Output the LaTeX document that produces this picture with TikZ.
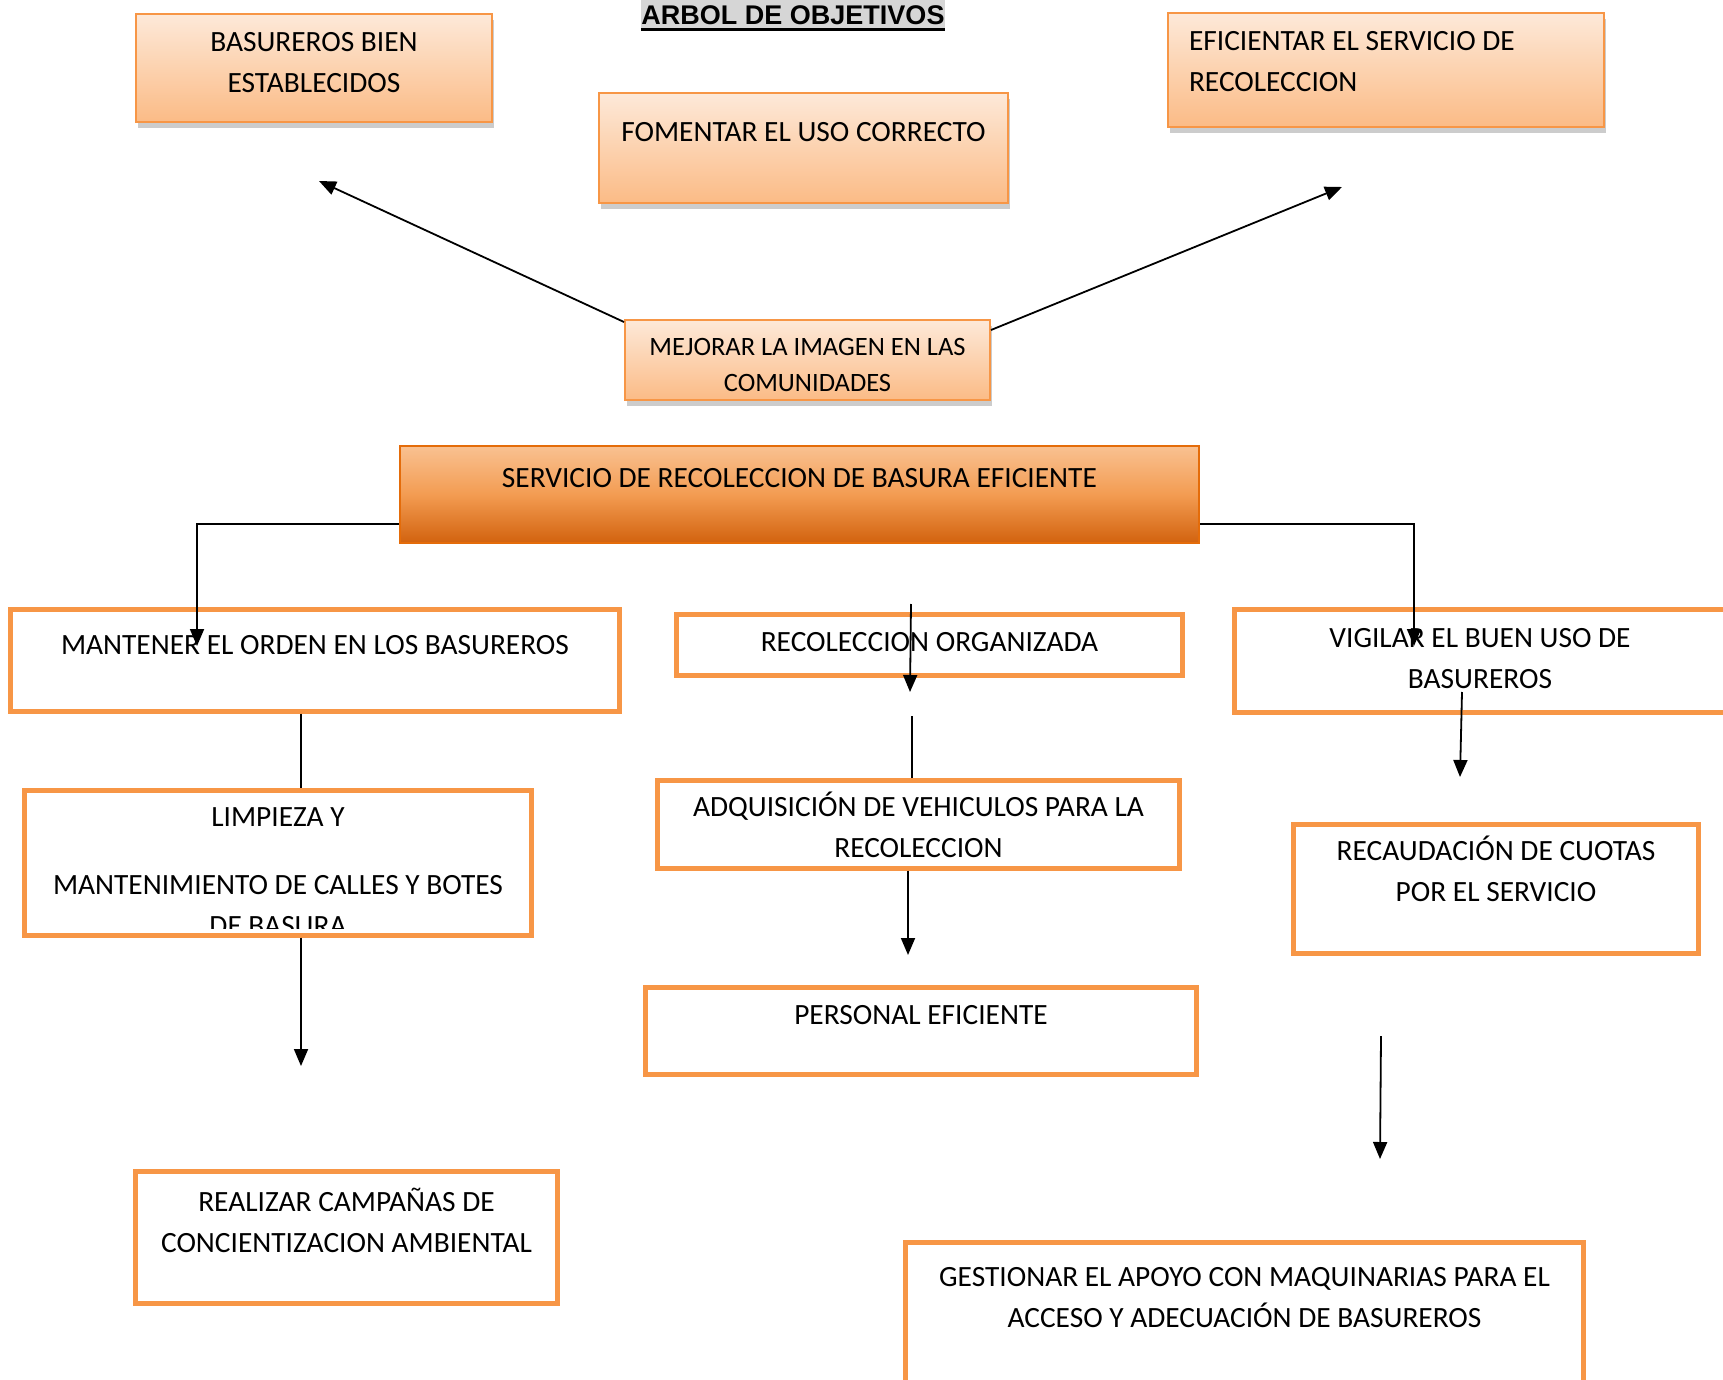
\documentclass[tikz,border=0pt]{standalone}
\usepackage{fontspec}
\setmainfont{Carlito}
\newfontfamily\arialfont{Liberation Sans}
\usepackage[RGB]{xcolor}
\usepackage{tikz}
\usetikzlibrary{arrows.meta,shadows}
\definecolor{borde}{RGB}{247,150,70}
\definecolor{bordeosc}{RGB}{228,108,10}
\definecolor{claro}{RGB}{253,233,217}
\definecolor{durazno}{RGB}{251,187,134}
\definecolor{centroA}{RGB}{249,193,145}
\definecolor{centroB}{RGB}{243,156,82}
\definecolor{centroC}{RGB}{210,98,14}
\definecolor{gristitulo}{RGB}{214,214,214}
\newcommand{\texto}{\fontsize{29.4}{41}\selectfont}
\newcommand{\textochico}{\fontsize{26.5}{36}\selectfont}

\tikzset{
  caja/.style n args={3}{text width=#1pt, text height=#2pt, text depth=#3pt},
  objetivo/.style={draw=borde, line width=2pt, top color=claro, bottom color=durazno,
    drop shadow={shadow xshift=2pt, shadow yshift=-6pt, fill=black, opacity=0.2},
    inner sep=0pt, anchor=north, align=flush center, font=\texto},
  central/.style={draw=bordeosc, line width=2pt, top color=centroA, bottom color=centroC,
    middle color=centroB, inner sep=0pt, anchor=north, align=flush center, font=\texto},
  medio/.style={draw=borde, line width=5pt, fill=white, inner sep=0pt, anchor=north,
    align=flush center, font=\texto},
  titulo/.style={fill=gristitulo, minimum width=300pt, minimum height=31pt, inner sep=0pt,
    font=\arialfont\bfseries\fontsize{27}{30}\selectfont},
  linea/.style={line width=1.8pt},
  flecha/.style={line width=1.8pt, -{Triangle[length=17pt,width=14pt]}}
}

\begin{document}
\begin{tikzpicture}[x=1pt,y=-1pt]
\path[use as bounding box, fill=white] (0,0) rectangle (1723,1380);

\node[titulo] (titulo) at (793,15.5) {ARBOL DE OBJETIVOS};
\draw[line width=2.5pt] ([yshift=1.5pt]titulo.south west) -- ([yshift=1.5pt]titulo.south east);

\node[objetivo, caja={356}{38}{70}] (basureros) at (314,13) {BASUREROS BIEN\\ESTABLECIDOS};
\node[objetivo, caja={409}{49}{61}] (fomentar) at (803.5,92) {FOMENTAR EL USO CORRECTO};
\node[objetivo, caja={394}{38}{76}, inner xsep=21pt, align=flush left] (eficientar) at (1386,12)
  {EFICIENTAR EL SERVICIO DE\\RECOLECCION};
\node[objetivo, caja={365}{35.5}{44.5}, font=\textochico] (mejorar) at (807.5,319)
  {MEJORAR LA IMAGEN EN LAS\\COMUNIDADES};

\node[central, caja={799}{41}{56}] (servicio) at (799.5,445)
  {SERVICIO DE RECOLECCION DE BASURA EFICIENTE};

\node[medio, caja={609}{45.5}{56.5}] (mantener) at (315,606.5) {MANTENER EL ORDEN EN LOS BASUREROS};
\node[medio, caja={506}{37.5}{23.5}] (recoleccion) at (929.5,611.5) {RECOLECCION ORGANIZADA};
\node[medio, caja={491}{38.5}{64.5}] (vigilar) at (1480,606.5) {VIGILAR EL BUEN USO DE\\BASUREROS};

\node[medio, caja={507}{36.5}{108.5}] (limpieza) at (278,787.5)
  {LIMPIEZA Y\\[27pt]MANTENIMIENTO DE CALLES Y BOTES};
\begin{scope}
  \clip ([xshift=3pt,yshift=-3pt]limpieza.north west) rectangle ([xshift=-3pt,yshift=9.5pt]limpieza.south east);
  \node[font=\texto, inner sep=0pt] (basura) at (278,926) {DE BASURA};
\end{scope}
\node[medio, caja={522}{36.5}{51.5}] (adquisicion) at (918.5,777.5)
  {ADQUISICIÓN DE VEHICULOS PARA LA\\RECOLECCION};
\node[medio, caja={551}{37.5}{49.5}] (personal) at (921,984.5) {PERSONAL EFICIENTE};
\node[medio, caja={405}{36.5}{92.5}] (recaudacion) at (1496,821.5)
  {RECAUDACIÓN DE CUOTAS\\POR EL SERVICIO};

\node[medio, caja={422}{40.5}{91.5}] (realizar) at (346.5,1168.5)
  {REALIZAR CAMPAÑAS DE\\CONCIENTIZACION AMBIENTAL};
\node[medio, caja={678}{44.5}{115.5}] (gestionar) at (1244.5,1239.5)
  {GESTIONAR EL APOYO CON MAQUINARIAS PARA EL\\ACCESO Y ADECUACIÓN DE BASUREROS};

\coordinate (pBas) at (319,181);
\coordinate (pEfi) at (1342,187);
\draw[flecha] ([yshift=-3pt]mejorar.north west) -- (pBas);
\draw[flecha] ([yshift=-11pt]mejorar.north east) -- (pEfi);

\coordinate (pMan) at (197,646);
\coordinate (pVig) at (1414,646);
\draw[flecha] ([yshift=20pt]servicio.south west) -| (pMan);
\draw[flecha] ([yshift=20pt]servicio.south east) -| (pVig);

\coordinate (ejeA) at (301,0);
\coordinate (pLim) at (301,1066);
\draw[linea] (mantener.south -| ejeA) -- (limpieza.north -| ejeA);
\draw[flecha] (limpieza.south -| pLim) -- (pLim);

\coordinate (rA) at (911,604);
\coordinate (rB) at (910,692);
\coordinate (rC) at (912,716);
\coordinate (rD) at (908,955);
\draw[flecha] (rA) -- (rB);
\draw[linea] (rC) -- (rC |- adquisicion.north);
\draw[flecha] (adquisicion.south -| rD) -- (rD);

\coordinate (vA) at (1462,692);
\coordinate (vB) at (1460,777);
\coordinate (gA) at (1381,1036);
\coordinate (gB) at (1380,1159);
\draw[flecha] (vA) -- (vB);
\draw[flecha] (gA) -- (gB);
\end{tikzpicture}
\end{document}
